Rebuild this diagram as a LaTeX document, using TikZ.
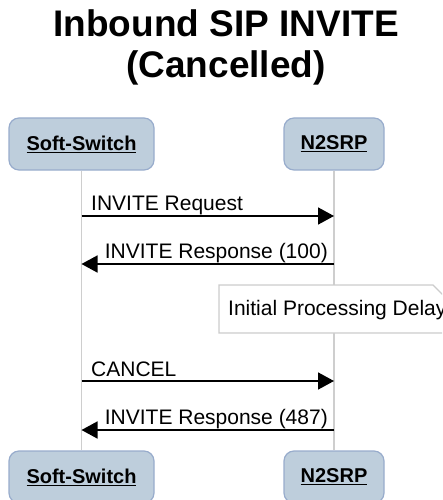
\documentclass[tikz,border=0pt]{standalone}
\usepackage{fontspec}
\setmainfont{Liberation Sans}
\usetikzlibrary{arrows.meta}

\definecolor{actorfill}{RGB}{190,206,220}
\definecolor{actorline}{RGB}{152,172,204}
\definecolor{lifegray}{RGB}{206,206,206}
\definecolor{notegray}{RGB}{204,204,204}

\begin{document}
\begin{tikzpicture}[x=1pt,y=-1pt,
    actor/.style={draw=actorline,fill=actorfill,rounded corners=10pt,line width=1.2pt,minimum height=52pt,inner sep=0pt,font=\fontsize{20}{24}\selectfont\bfseries},
    lifeline/.style={draw=lifegray,line width=1.5pt},
    msg/.style={draw=black,line width=1.6pt,-{Triangle[length=16pt,width=17pt]}},
    msgtext/.style={inner sep=0pt,font=\fontsize{21}{25}\selectfont},
    titletext/.style={inner sep=0pt,font=\fontsize{37}{41}\selectfont\bfseries}]

    \clip (0,0) rectangle (442,500);

    \node[titletext,anchor=base] (title1) at (226,37) {Inbound SIP INVITE};
    \node[titletext,anchor=base] (title2) at (226,78) {(Cancelled)};

    \node[actor,minimum width=145pt] (SS_top) at (81.5,144) {\underline{Soft-Switch}};
    \node[actor,minimum width=100pt] (NR_top) at (334,144) {\underline{N2SRP}};
    \node[actor,minimum width=145pt] (SS_bot) at (81.5,477) {\underline{Soft-Switch}};
    \node[actor,minimum width=100pt] (NR_bot) at (334,477) {\underline{N2SRP}};

    \path (SS_top) edge[lifeline] (SS_bot);
    \path (NR_top) edge[lifeline] (NR_bot);

    % note over the N2SRP lifeline
    \draw[draw=notegray,fill=white,line width=1.2pt] (219,285) -- (433,285) -- (445,297) -- (445,333) -- (219,333) -- cycle;
    \node[msgtext,anchor=west] (delay) at (228,310) {Initial Processing Delay};

    \coordinate (SS_1) at (81.5,216);
    \coordinate (NR_1) at (334,216);
    \coordinate (SS_2) at (81.5,264);
    \coordinate (NR_2) at (334,264);
    \coordinate (SS_3) at (81.5,381);
    \coordinate (NR_3) at (334,381);
    \coordinate (SS_4) at (81.5,430);
    \coordinate (NR_4) at (334,430);

    \path (SS_1) edge[msg] (NR_1);
    \path (NR_2) edge[msg] (SS_2);
    \path (SS_3) edge[msg] (NR_3);
    \path (NR_4) edge[msg] (SS_4);

    \node[msgtext,anchor=base west] (m1) at (91,210) {INVITE Request};
    \node[msgtext,anchor=base east] (m2) at (328,258) {INVITE Response (100)};
    \node[msgtext,anchor=base west] (m3) at (91,376) {CANCEL};
    \node[msgtext,anchor=base east] (m4) at (328,424) {INVITE Response (487)};

\end{tikzpicture}
\end{document}
